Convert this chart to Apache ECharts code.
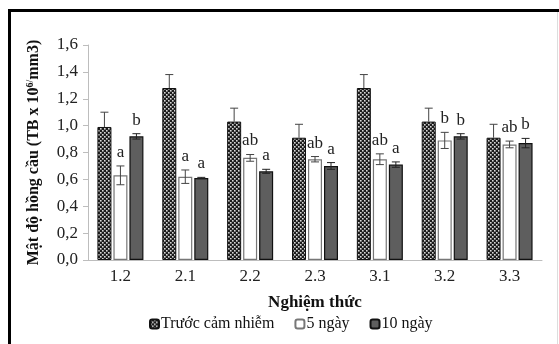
<!DOCTYPE html>
<html>
<head>
<meta charset="utf-8">
<script src="https://cdn.jsdelivr.net/npm/echarts@6/dist/echarts.min.js"></script>
<style>
  html, body { margin: 0; padding: 0; background: #fff; }
  #chart { width: 559px; height: 344px; }
</style>
</head>
<body>
<div id="chart"></div>
<script>
// Red blood cell density per treatment (TB x 10^6/mm3)
const categories = ['1.2', '2.1', '2.2', '2.3', '3.1', '3.2', '3.3'];
const seriesNames = ['Trước cảm nhiễm', '5 ngày', '10 ngày'];
const yTicks = { min: 0, max: 1.6, interval: 0.2 };

const beforeInfection = [0.99, 1.28, 1.03, 0.91, 1.28, 1.03, 0.91];
const beforeInfectionErr = [0.11, 0.10, 0.10, 0.10, 0.10, 0.10, 0.10];
const day5 = [0.63, 0.62, 0.76, 0.75, 0.75, 0.89, 0.86];
const day5Err = [0.07, 0.05, 0.025, 0.02, 0.04, 0.06, 0.025];
const day10 = [0.92, 0.61, 0.66, 0.70, 0.71, 0.92, 0.87];
const day10Err = [0.02, 0.005, 0.015, 0.025, 0.02, 0.02, 0.035];
const day5Letters = ['a', 'a', 'ab', 'ab', 'ab', 'b', 'ab'];
const day10Letters = ['b', 'a', 'a', 'a', 'a', 'b', 'b'];

const SERIF = '"Liberation Serif", "DejaVu Serif", serif';
const BAR_W = 14;
const BAR_GAP_PX = 2;

// dotted checker fill for the pre-infection bars
function makeDotPattern() {
  const c = document.createElement('canvas');
  c.width = 4; c.height = 4;
  const g = c.getContext('2d');
  g.fillStyle = '#1c1c1c';
  g.fillRect(0, 0, 4, 4);
  g.fillStyle = '#d8d8d8';
  g.fillRect(0, 0, 1.6, 1.6);
  g.fillRect(2, 2, 1.6, 1.6);
  return c;
}
const dotFill = { image: makeDotPattern(), repeat: 'repeat' };

const chart = echarts.init(document.getElementById('chart'), null, { renderer: 'canvas' });

// offset (px) of bar i inside its category group
function barOffset(i) {
  const total = 3 * BAR_W + 2 * BAR_GAP_PX;
  return -total / 2 + i * (BAR_W + BAR_GAP_PX) + BAR_W / 2;
}

function errorSeries(idx, values, errs, letters, bothSides, color) {
  const data = values.map((v, k) => [k, v, errs[k]]);
  return {
    type: 'custom',
    name: seriesNames[idx] + ' err',
    z: 10,
    silent: true,
    encode: { x: 0, y: 1 },
    data: data,
    renderItem: function (params, api) {
      const k = api.value(0);
      const v = api.value(1);
      const e = api.value(2);
      const base = api.coord([k, v]);
      const x = base[0] + barOffset(idx);
      const top = api.coord([k, v + e])[1];
      const bot = bothSides ? api.coord([k, v - e])[1] : base[1];
      const cap = 4;
      const lineStyle = { stroke: color, lineWidth: 1 };
      const children = [
        { type: 'line', shape: { x1: x, y1: top, x2: x, y2: bot }, style: lineStyle },
        { type: 'line', shape: { x1: x - cap, y1: top, x2: x + cap, y2: top }, style: lineStyle }
      ];
      if (bothSides) {
        children.push({ type: 'line', shape: { x1: x - cap, y1: bot, x2: x + cap, y2: bot }, style: lineStyle });
      }
      if (letters) {
        children.push({
          type: 'text',
          style: {
            text: letters[k], x: x, y: top - 5,
            align: 'center', verticalAlign: 'bottom',
            font: '17px ' + SERIF, fill: '#222'
          }
        });
      }
      return { type: 'group', children: children };
    }
  };
}

const option = {
  animation: false,
  backgroundColor: '#fff',
  grid: { left: 88, right: 17, top: 45, bottom: 84 },
  legend: {
    data: seriesNames,
    bottom: 7,
    left: 144,
    itemWidth: 9,
    itemHeight: 9,
    itemGap: 20,
    textStyle: { fontFamily: SERIF, fontSize: 16, color: '#111', padding: [0, 0, 0, -3] }
  },
  xAxis: {
    type: 'category',
    data: categories,
    name: 'Nghiệm thức',
    nameLocation: 'middle',
    nameGap: 34,
    nameTextStyle: { fontFamily: SERIF, fontSize: 17, fontWeight: 'bold', color: '#111' },
    axisLine: { lineStyle: { color: '#bdbdbd' } },
    axisTick: { show: false },
    axisLabel: { fontFamily: SERIF, fontSize: 17, color: '#222', margin: 8 }
  },
  yAxis: {
    type: 'value',
    min: yTicks.min,
    max: yTicks.max,
    interval: yTicks.interval,
    name: 'Mật độ hồng cầu (TB x 10{sup|6/}mm3)',
    nameLocation: 'middle',
    nameGap: 46,
    nameRotate: 90,
    nameTextStyle: {
      fontFamily: SERIF, fontSize: 16, fontWeight: 'bold', color: '#111',
      rich: {
        sup: { fontFamily: SERIF, fontSize: 10, fontWeight: 'bold', color: '#111', verticalAlign: 'top', padding: [0, 0, 7, 0] }
      }
    },
    splitLine: { show: false },
    axisLine: { show: true, lineStyle: { color: '#bdbdbd' } },
    axisTick: { show: true, length: 5, lineStyle: { color: '#bdbdbd' } },
    axisLabel: {
      fontFamily: SERIF, fontSize: 17, color: '#222', margin: 10,
      formatter: v => v.toFixed(1).replace('.', ',')
    }
  },
  series: [
    {
      type: 'bar', name: seriesNames[0], data: beforeInfection,
      barWidth: BAR_W, barGap: (BAR_GAP_PX / BAR_W * 100) + '%',
      itemStyle: { color: dotFill, borderColor: '#111', borderWidth: 1 }
    },
    {
      type: 'bar', name: seriesNames[1], data: day5,
      barWidth: BAR_W,
      itemStyle: { color: '#ffffff', borderColor: '#777', borderWidth: 1.2 }
    },
    {
      type: 'bar', name: seriesNames[2], data: day10,
      barWidth: BAR_W,
      itemStyle: { color: '#5e5e5e', borderColor: '#111', borderWidth: 1.2 }
    },
    errorSeries(0, beforeInfection, beforeInfectionErr, null, false, '#444'),
    errorSeries(1, day5, day5Err, day5Letters, true, '#444'),
    errorSeries(2, day10, day10Err, day10Letters, true, '#222')
  ],
  graphic: [
    { type: 'rect', left: 8, top: 9, shape: { width: 551, height: 3 }, style: { fill: '#000' } },
    { type: 'rect', left: 8, top: 9, shape: { width: 3, height: 335 }, style: { fill: '#000' } },
    { type: 'rect', left: 557, top: 12, shape: { width: 1, height: 332 }, style: { fill: '#ddd' } }
  ]
};

chart.setOption(option);
</script>
</body>
</html>
